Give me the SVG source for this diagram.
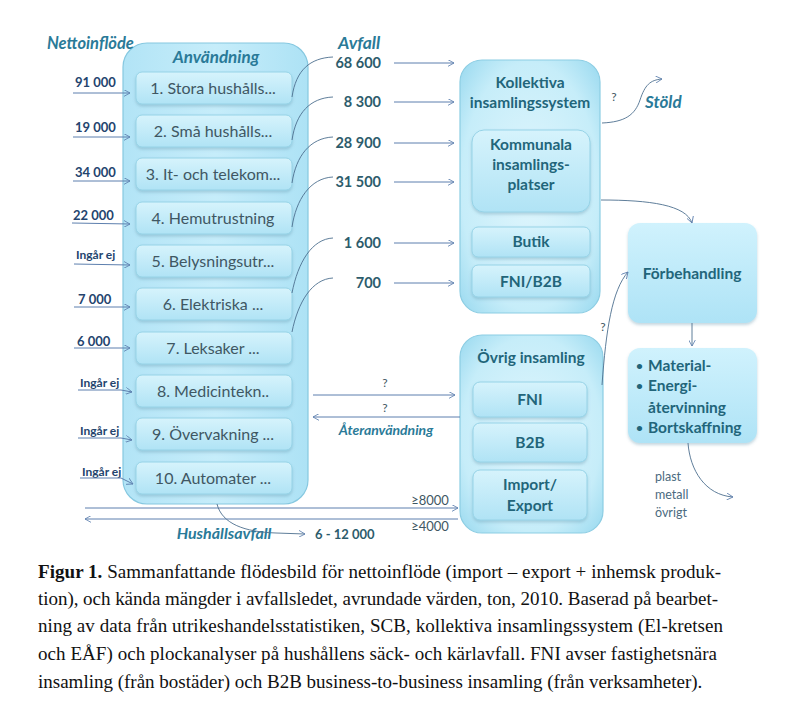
<svg xmlns="http://www.w3.org/2000/svg" width="806" height="702" viewBox="0 0 806 702">
<defs>
<linearGradient id="gBox" x1="0" y1="0" x2="0" y2="1">
<stop offset="0" stop-color="#d6f3fc"/><stop offset="1" stop-color="#b0e3f5"/>
</linearGradient>
<radialGradient id="gCont" cx="0.5" cy="0.5" r="0.7">
<stop offset="0" stop-color="#e0f6fd"/><stop offset="0.7" stop-color="#c6edf9"/><stop offset="1" stop-color="#99d9ef"/>
</radialGradient>
<linearGradient id="gLeft" x1="0" y1="0" x2="1" y2="0">
<stop offset="0" stop-color="#b2e4f6"/><stop offset="0.5" stop-color="#c6edfa"/><stop offset="1" stop-color="#ade2f5"/>
</linearGradient>
<linearGradient id="gFor" x1="0" y1="0" x2="0" y2="1">
<stop offset="0" stop-color="#d0f2fd"/><stop offset="1" stop-color="#aee3f6"/>
</linearGradient>
<filter id="sh" x="-10%" y="-10%" width="130%" height="130%">
<feDropShadow dx="0" dy="2" stdDeviation="1.5" flood-color="#5a8fa5" flood-opacity="0.35"/>
</filter>
<marker id="ar" viewBox="0 0 10 10" refX="9" refY="5" markerWidth="7" markerHeight="7" markerUnits="userSpaceOnUse" orient="auto">
<path d="M0,0 L9,5 L0,10" fill="none" stroke="#5d7fae" stroke-width="1.2"/>
</marker>
</defs>
<style>
.cont{fill:url(#gCont);stroke:#8ccde3;stroke-width:1.2}
.left{fill:url(#gLeft);stroke:#86c8e0;stroke-width:1.2}
.box{fill:url(#gBox);stroke:#96d3e7;stroke-width:1;filter:url(#sh)}
.lbl{font-family:Lato,"Liberation Sans",sans-serif;font-size:16px;fill:#3f5763;text-anchor:middle}
.hd{font-family:Lato,"Liberation Sans",sans-serif;font-size:15.5px;font-weight:bold;fill:#22657a;text-anchor:middle}
.it{font-family:Lato,"Liberation Sans",sans-serif;font-size:16.5px;font-weight:bold;font-style:italic;fill:#2a7a98}
.num{font-family:Lato,"Liberation Sans",sans-serif;font-size:13px;font-weight:bold;fill:#24446e}
.ing{font-family:Lato,"Liberation Sans",sans-serif;font-size:12px;font-weight:bold;fill:#24446e}
.av{font-family:Lato,"Liberation Sans",sans-serif;font-size:14.5px;font-weight:bold;fill:#2d5c6c;text-anchor:end}
.q{font-family:Lato,"Liberation Sans",sans-serif;font-size:12px;fill:#3f5763;text-anchor:middle}
.sm{font-family:Lato,"Liberation Sans",sans-serif;font-size:12.5px;fill:#4a6a80}
.ln{fill:none;stroke:#5d7fae;stroke-width:1}
.cv{fill:none;stroke:#4d6f8f;stroke-width:0.9}
.cap{font-family:"Liberation Serif",serif;font-size:19px;fill:#111}
</style>

<g id="anvandning">
<rect class="left" x="123" y="43" width="185" height="461" rx="24"/>
<text class="it" x="216" y="63" text-anchor="middle" style="font-size:17px">Användning</text>
</g>
<g id="n1"><rect class="box" x="136" y="72" width="156" height="32" rx="6"/><text class="lbl" x="213" y="94">1.   Stora hushålls...</text></g>
<g id="n2"><rect class="box" x="136" y="115" width="156" height="32" rx="6"/><text class="lbl" x="213" y="137">2.  Små hushålls...</text></g>
<g id="n3"><rect class="box" x="136" y="158" width="156" height="32" rx="6"/><text class="lbl" x="213" y="180">3.  It- och telekom...</text></g>
<g id="n4"><rect class="box" x="136" y="202" width="156" height="32" rx="6"/><text class="lbl" x="213" y="224">4. Hemutrustning</text></g>
<g id="n5"><rect class="box" x="136" y="245" width="156" height="32" rx="6"/><text class="lbl" x="213" y="267">5. Belysningsutr...</text></g>
<g id="n6"><rect class="box" x="136" y="288" width="156" height="32" rx="6"/><text class="lbl" x="213" y="310">6. Elektriska ...</text></g>
<g id="n7"><rect class="box" x="136" y="332" width="156" height="32" rx="6"/><text class="lbl" x="213" y="354">7. Leksaker ...</text></g>
<g id="n8"><rect class="box" x="136" y="375" width="156" height="32" rx="6"/><text class="lbl" x="213" y="397">8. Medicintekn..</text></g>
<g id="n9"><rect class="box" x="136" y="418" width="156" height="32" rx="6"/><text class="lbl" x="213" y="440">9. Övervakning ...</text></g>
<g id="n10"><rect class="box" x="136" y="462" width="156" height="32" rx="6"/><text class="lbl" x="213" y="484">10. Automater ...</text></g>

<g id="kollektiva">
<rect class="cont" x="460" y="60" width="140" height="253" rx="22"/>
<text class="hd" x="530" y="88">Kollektiva</text>
<text class="hd" x="530" y="108">insamlingssystem</text>
</g>
<g id="kommunala"><rect class="box" x="472" y="130" width="118" height="82" rx="12"/>
<text class="hd" x="531" y="150">Kommunala</text><text class="hd" x="531" y="170">insamlings-</text><text class="hd" x="531" y="190">platser</text></g>
<g id="butik"><rect class="box" x="472" y="227" width="118" height="30" rx="6"/><text class="hd" x="531" y="247">Butik</text></g>
<g id="fnib2b"><rect class="box" x="472" y="265" width="118" height="32" rx="6"/><text class="hd" x="531" y="287">FNI/B2B</text></g>

<g id="ovrig">
<rect class="cont" x="460" y="335" width="143" height="198" rx="22"/>
<text class="hd" x="531" y="363">Övrig insamling</text>
</g>
<g id="fni"><rect class="box" x="473" y="382" width="114" height="35" rx="7"/><text class="hd" x="530" y="405">FNI</text></g>
<g id="b2b"><rect class="box" x="473" y="423" width="114" height="39" rx="7"/><text class="hd" x="530" y="448">B2B</text></g>
<g id="importexport"><rect class="box" x="473" y="470" width="114" height="50" rx="7"/><text class="hd" x="530" y="490">Import/</text><text class="hd" x="530" y="511">Export</text></g>

<g id="forbehandling"><rect x="628" y="223" width="129" height="100" rx="12" fill="url(#gFor)" filter="url(#sh)"/><text class="hd" x="692" y="279">Förbehandling</text></g>

<g id="material"><rect x="628" y="348" width="129" height="95" rx="12" fill="url(#gFor)" filter="url(#sh)"/>
<g class="hd" style="text-anchor:start">
<text x="636" y="370" style="font-size:12px">•</text><text x="648" y="371">Material-</text>
<text x="636" y="390" style="font-size:12px">•</text><text x="648" y="391">Energi-</text>
<text x="648" y="413">återvinning</text>
<text x="636" y="432" style="font-size:12px">•</text><text x="648" y="433">Bortskaffning</text>
</g></g>

<g id="labels">
<text class="it" x="47" y="49">Nettoinflöde</text>
<text class="it" x="338" y="49" style="font-size:17.5px">Avfall</text>
<text class="it" x="645" y="108" style="font-size:17px">Stöld</text>
<text class="it" x="386" y="435" text-anchor="middle" style="font-size:14px">Återanvändning</text>
<text class="it" x="224" y="539" text-anchor="middle" style="font-size:16px">Hushållsavfall</text>
<text class="num" x="315" y="539" style="fill:#2d5c6c">6 - 12 000</text>
<text class="num" x="75" y="87">91 000</text>
<text class="num" x="75" y="132">19 000</text>
<text class="num" x="75" y="177">34 000</text>
<text class="num" x="73" y="220">22 000</text>
<text class="ing" x="76" y="259">Ingår ej</text>
<text class="num" x="78" y="304">7 000</text>
<text class="num" x="77" y="346">6 000</text>
<text class="ing" x="80" y="387">Ingår ej</text>
<text class="ing" x="80" y="435">Ingår ej</text>
<text class="ing" x="82" y="476">Ingår ej</text>
<text class="av" x="381" y="68">68 600</text>
<text class="av" x="381" y="107">8 300</text>
<text class="av" x="381" y="148">28 900</text>
<text class="av" x="381" y="187">31 500</text>
<text class="av" x="381" y="248">1 600</text>
<text class="av" x="381" y="288">700</text>
<text class="q" x="614" y="101">?</text>
<text class="q" x="603" y="331">?</text>
<text class="q" x="385" y="387">?</text>
<text class="q" x="385" y="412">?</text>
<text class="q" x="430" y="505" style="font-size:13px">≥8000</text>
<text class="q" x="430" y="531" style="font-size:13px">≥4000</text>
<text class="sm" x="655" y="481">plast</text>
<text class="sm" x="655" y="499">metall</text>
<text class="sm" x="655" y="517">övrigt</text>
</g>

<g id="connectors">
<path class="ln" d="M73,93 L130,93" marker-end="url(#ar)"/>
<path class="ln" d="M73,137 L130,137" marker-end="url(#ar)"/>
<path class="ln" d="M73,181 L130,181" marker-end="url(#ar)"/>
<path class="ln" d="M72,223 L130,224" marker-end="url(#ar)"/>
<path class="ln" d="M74,264 L130,265" marker-end="url(#ar)"/>
<path class="ln" d="M74,307 L130,307" marker-end="url(#ar)"/>
<path class="ln" d="M74,348 L130,348" marker-end="url(#ar)"/>
<path class="ln" d="M78,390 L121,390 L132,392" marker-end="url(#ar)"/>
<path class="ln" d="M78,438 L121,438 L132,440" marker-end="url(#ar)"/>
<path class="ln" d="M80,478 L121,478 L133,484" marker-end="url(#ar)"/>

<path class="cv" d="M292,97 C296,70 310,58 333,57"/>
<path class="cv" d="M292,140 C296,113 310,98 333,97"/>
<path class="cv" d="M292,183 C296,156 310,138 333,137"/>
<path class="cv" d="M292,227 C296,200 310,178 333,177"/>
<path class="cv" d="M292,293 C298,262 312,239 333,238"/>
<path class="cv" d="M292,332 C298,302 312,279 333,278"/>

<path class="ln" d="M394,63 L454,63" marker-end="url(#ar)"/>
<path class="ln" d="M394,102 L454,102" marker-end="url(#ar)"/>
<path class="ln" d="M394,143 L454,143" marker-end="url(#ar)"/>
<path class="ln" d="M394,182 L454,182" marker-end="url(#ar)"/>
<path class="ln" d="M394,243 L454,243" marker-end="url(#ar)"/>
<path class="ln" d="M394,283 L454,283" marker-end="url(#ar)"/>

<path class="cv" d="M602,123 C625,122 635,115 640,100 C645,85 650,80 662,79" marker-end="url(#ar)"/>
<path class="cv" d="M601,200 C650,200 686,205 692,223" marker-end="url(#ar)"/>
<path class="cv" d="M602,385 C606,330 612,290 628,272" marker-end="url(#ar)"/>
<path class="cv" d="M692,323 L692,346" marker-end="url(#ar)"/>
<path class="cv" d="M688,443 C690,470 705,495 733,497" marker-end="url(#ar)"/>

<path class="ln" d="M313,395 L455,395" marker-end="url(#ar)"/>
<path class="ln" d="M460,417 L313,417" marker-end="url(#ar)"/>
<path class="ln" d="M85,508 L458,508" marker-end="url(#ar)"/>
<path class="ln" d="M458,519 L85,519" marker-end="url(#ar)"/>
<path class="cv" d="M217,504 C222,524 245,532 276,533 L305,534" marker-end="url(#ar)"/>
</g>

<g id="caption" class="cap">
<text x="38" y="578" textLength="683" lengthAdjust="spacing"><tspan font-weight="bold">Figur 1.</tspan> Sammanfattande flödesbild för nettoinflöde (import – export + inhemsk produk-</text>
<text x="38" y="605" textLength="680" lengthAdjust="spacing">tion), och kända mängder i avfallsledet, avrundade värden, ton, 2010. Baserad på bearbet-</text>
<text x="38" y="632" textLength="685" lengthAdjust="spacing">ning av data från utrikeshandelsstatistiken, SCB, kollektiva insamlingssystem (El-kretsen</text>
<text x="38" y="660" textLength="679" lengthAdjust="spacing">och EÅF) och plockanalyser på hushållens säck- och kärlavfall. FNI avser fastighetsnära</text>
<text x="38" y="688">insamling (från bostäder) och B2B business-to-business insamling (från verksamheter).</text>
</g>
</svg>
